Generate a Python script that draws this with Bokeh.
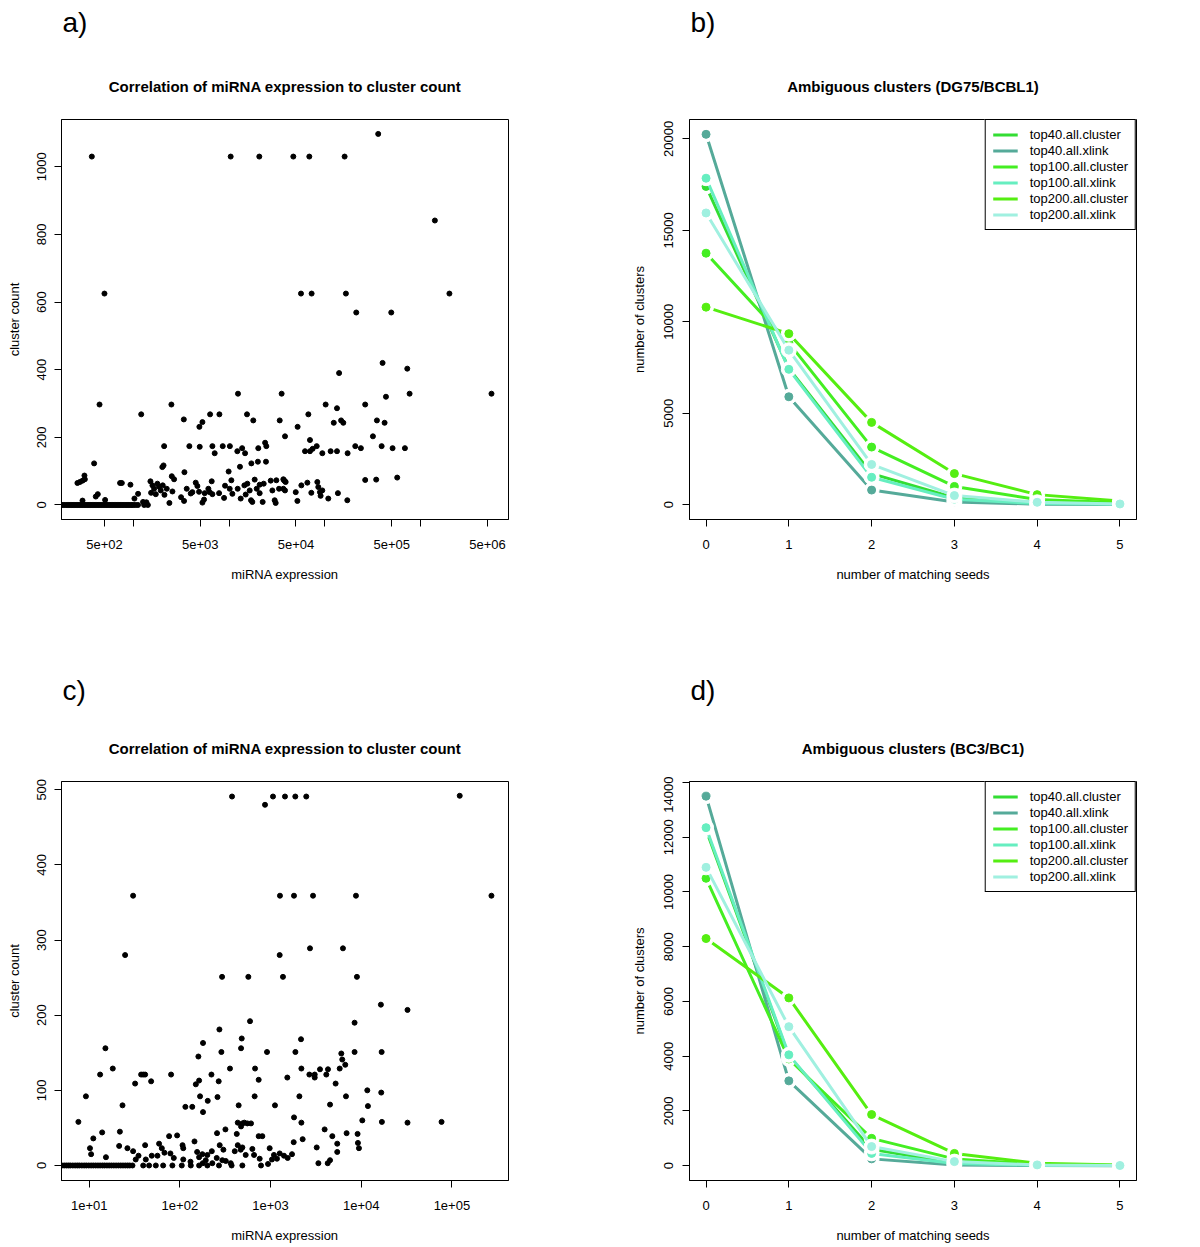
from bokeh.plotting import figure
from bokeh.models import Range1d, FixedTicker, Legend, LegendItem
from bokeh.core.properties import value
from bokeh.layouts import column, row
from bokeh.embed import file_html
from bokeh.resources import INLINE

FONT = "Liberation Sans"

# ---------------- panel a : miRNA expression vs cluster count (DG75/BCBL1)
a_expr = [369, 500, 444, 390, 10400, 20700, 46900, 68900, 161000, 361000, 1410000, 2000000,
          56400, 72800, 166000, 213000, 494000, 401000, 141000, 726000, 768000, 5500000, 435000,
          12400, 35400, 264000, 102000, 134000, 2500, 1210, 6340, 7930, 15400, 67300, 3370, 17900,
          33800, 148000, 156000, 350000, 421000, 124000, 5270, 4900, 52000, 38400, 318000, 70000,
          2100, 3850, 4940, 6700, 8590, 10200, 13700, 20200, 23800, 24500, 7080, 12200, 14700,
          82300, 62100, 70000, 74600, 94200, 115000, 134000, 173000, 208000, 238000, 392000,
          510000, 686000, 20000, 24300, 17100, 13000, 2070, 2010, 3420, 9900,
          261, 277, 295, 309, 312, 295, 406, 426, 508, 728, 759, 934, 1028, 1122, 1265, 1371, 1510,
          1585, 1535, 1650, 1717, 1786, 1858, 1936, 2031, 2115, 2236, 2383, 2523, 2563, 2667, 3155,
          3390, 3614, 3981, 4140, 4487, 4670, 4860, 5270, 5480, 5570, 6080, 6280, 6590, 6700, 7870,
          8870, 9080, 10160, 10570, 10830, 12310, 13230, 14450, 14920, 15520, 16430, 16960, 17500,
          18520, 19440, 20880, 20880, 22440, 23010, 27230, 28330, 29950, 30680, 31180, 33250, 36900,
          38400, 38400, 37500, 39000, 36900, 49700, 51700, 56900, 65700, 72300, 83500, 85500, 89000,
          90400, 94100, 108700, 137000, 171700, 264000, 344000, 570000]
a_count = [1030, 625, 297, 123, 1030, 1030, 1030, 1030, 1030, 1097, 841, 625, 625, 625, 625, 569,
           569, 420, 390, 403, 329, 329, 320, 329, 329, 297, 297, 286, 297, 268, 268, 268, 268, 268,
           253, 250, 250, 250, 243, 250, 243, 243, 245, 231, 231, 203, 203, 192, 174, 174, 172, 174,
           174, 174, 168, 168, 184, 174, 153, 159, 153, 174, 159, 159, 166, 153, 159, 159, 153, 174,
           168, 174, 168, 168, 128, 128, 123, 113, 117, 112, 97, 99,
           65, 68, 72, 87, 76, 13, 25, 32, 15, 65, 65, 60, 19, 33, 9, 8, 70, 58, 36, 48, 32, 63, 54,
           43, 58, 30, 48, 6, 85, 40, 76, 23, 12, 48, 34, 38, 66, 56, 39, 7, 16, 35, 48, 38, 70, 32,
           35, 21, 57, 48, 73, 33, 48, 19, 58, 31, 63, 43, 14, 9, 75, 48, 60, 35, 9, 63, 72, 43, 14,
           6, 73, 48, 76, 70, 43, 73, 68, 48, 38, 12, 58, 66, 36, 68, 53, 38, 27, 43, 19, 35, 14,
           74, 75, 81]
a_zero_expr = [180, 188, 196, 204, 212, 220, 228, 236, 245, 254, 263, 272, 282, 292, 302, 313, 324,
               336, 348, 360, 373, 386, 400, 415, 430, 445, 461, 478, 495, 513, 531, 550, 570, 590,
               611, 633, 656, 680, 704, 729, 755, 782, 810, 840, 870, 900, 935, 970, 1010, 1060,
               1120, 1300, 1420]

a_xticks = [500, 1000, 5000, 10000, 50000, 100000, 500000, 1000000, 5000000]
a_xlabels = ["5e+02", "", "5e+03", "", "5e+04", "", "5e+05", "", "5e+06"]
a_yticks = [0, 200, 400, 600, 800, 1000]

# ---------------- panel c : miRNA expression vs cluster count (BC3/BC1)
c_expr = [376, 869, 1064, 1443, 1875, 2477, 122000, 30.5, 1270, 1814, 2941, 8750, 273000, 24.9,
          1261, 2723, 6290, 292, 569, 1371, 8970, 16480, 32400, 594, 8450, 273, 481, 2168, 180,
          15.1, 473,
          287, 914, 160, 18.2, 13.2, 9.2, 7.6, 23.3, 32.1, 37.4, 39.4, 41.4, 48.2, 80, 150, 163,
          167, 203, 180, 223, 268, 260, 357, 445, 675, 740, 668, 1119, 115, 137, 435, 473, 489,
          514, 555, 609, 740, 812, 424, 318, 257,
          10.2, 10.5, 11.1, 13.9, 15.3, 21.8, 21.4, 26.4, 30.5, 32.6, 35.0, 41.4, 42.1, 49.0, 56.6,
          59.0, 63.2, 67.6, 76.1, 78.7, 85.7, 93.3, 107, 109, 109, 131, 145, 155, 163, 177, 179,
          193, 201, 225, 228, 255, 275, 294, 302, 321, 364, 403, 435, 469, 489, 532, 630, 658, 759,
          785, 938, 978, 1037, 1091, 1178, 1261, 1407, 1545,
          1880, 6030, 6180, 6670, 8450, 16800, 2188, 1531, 2680, 3070, 3070, 3510, 4120, 4300,
          5790, 5220, 2080, 6790, 11670, 16630, 4530, 11860, 1815, 2188, 10280, 16900, 32400,
          76900, 3950, 4800, 6900, 9120, 9200, 9440, 5440, 5440, 1800, 2260, 3230, 1725, 4530,
          4270, 3370]
c_count = [491, 480, 491, 491, 491, 491, 492, 359, 359, 359, 359, 359, 359, 280, 280, 289, 289,
           251, 251, 251, 251, 214, 207, 192, 190, 181, 169, 168, 163, 156, 156,
           151, 151, 145, 129, 121, 92, 58, 80, 109, 121, 121, 121, 112, 121, 108, 113, 92, 86, 71,
           121, 112, 91, 129, 80, 129, 114, 92, 80, 78, 78, 57, 52, 56, 57, 56, 56, 39, 39, 42, 48,
           43,
           23, 15, 36, 44, 11, 45, 26, 23, 19, 8, 13, 27, 8, 13, 13, 29, 23, 17, 39, 16, 10, 40, 27,
           23, 8, 5, 32, 18, 11, 15, 3, 7, 14, 19, 3, 10, 27, 7, 21, 6, 3, 19, 27, 21, 24, 14, 22,
           14, 9, 0, 2, 23, 8, 14, 9, 16, 13, 10,
           151, 149, 141, 134, 151, 151, 129, 117, 121, 121, 117, 128, 121, 128, 129, 109, 92, 92,
           100, 97, 81, 79, 64, 57, 60, 58, 57, 58, 48, 39, 43, 42, 30, 23, 29, 18, 31, 35, 24, 15,
           7, 3, 3]
c_zero_expr = [5.0, 5.3, 5.6, 5.9, 6.2, 6.6, 7.0, 7.4, 7.8, 8.3, 8.8, 9.3, 9.9, 10.5, 11.1, 11.8,
               12.5, 13.2, 14.0, 14.8, 15.7, 16.6, 17.6, 18.7, 19.8, 21.0, 22.3, 23.6, 25.0, 26.5,
               28.0, 30.0, 39.4, 45.8, 54.3, 65.4, 82.7, 105, 132, 163, 201, 270, 372, 489]

c_xticks = [10, 100, 1000, 10000, 100000]
c_xlabels = ["1e+01", "1e+02", "1e+03", "1e+04", "1e+05"]
c_yticks = [0, 100, 200, 300, 400, 500]

# ---------------- panels b and d : ambiguous clusters by number of matching seeds
seeds = [0, 1, 2, 3, 4, 5]
series_names = ["top40.all.cluster", "top40.all.xlink", "top100.all.cluster",
                "top100.all.xlink", "top200.all.cluster", "top200.all.xlink"]
series_colors = ["#33DD33", "#55AA99", "#44EE22", "#66EEC0", "#55EE11", "#A0F0E0"]

b_top40_cluster = [17400, 7450, 1700, 380, 100, 30]
b_top40_xlink = [20250, 5900, 800, 150, 30, 10]
b_top100_cluster = [13750, 8850, 3150, 1000, 280, 100]
b_top100_xlink = [17850, 7400, 1500, 300, 60, 20]
b_top200_cluster = [10800, 9350, 4500, 1700, 550, 200]
b_top200_xlink = [15950, 8450, 2200, 500, 130, 40]
b_yticks = [0, 5000, 10000, 15000, 20000]

d_top40_cluster = [12270, 4000, 600, 100, 20, 5]
d_top40_xlink = [13500, 3100, 250, 30, 5, 2]
d_top100_cluster = [10500, 3900, 1000, 250, 50, 10]
d_top100_xlink = [12350, 4050, 450, 80, 15, 5]
d_top200_cluster = [8300, 6130, 1870, 450, 90, 25]
d_top200_xlink = [10900, 5080, 700, 150, 30, 8]
d_yticks = [0, 2000, 4000, 6000, 8000, 10000, 12000, 14000]

scatter_title = "Correlation of miRNA expression to cluster count"
b_title = "Ambiguous clusters (DG75/BCBL1)"
d_title = "Ambiguous clusters (BC3/BC1)"


def make_fig(xr, yr, w, h, bl, br, bt, bb, xtype="linear"):
    p = figure(width=w, height=h, x_range=xr, y_range=yr, x_axis_type=xtype, title=None,
               min_border_left=bl, min_border_right=br, min_border_top=bt, min_border_bottom=bb,
               output_backend="svg", toolbar_location=None)
    p.xgrid.visible = False
    p.ygrid.visible = False
    p.outline_line_color = "black"
    p.outline_line_alpha = 1.0
    p.outline_line_width = 1
    p.background_fill_color = "white"
    p.border_fill_color = "white"
    return p


def style_axis(ax, ticks, labels, title, label_standoff, tick_standoff, vertical=False):
    ax.ticker = FixedTicker(ticks=ticks)
    if labels is not None:
        ax.major_label_overrides = {t: l for t, l in zip(ticks, labels)}
    ax.axis_label = title
    ax.axis_label_standoff = label_standoff
    ax.axis_label_text_font = FONT
    ax.axis_label_text_font_size = "13px"
    ax.axis_label_text_font_style = "normal"
    ax.axis_label_text_color = "black"
    ax.major_label_text_font = FONT
    ax.major_label_text_font_size = "13px"
    ax.major_label_text_color = "black"
    ax.major_label_standoff = tick_standoff
    ax.major_tick_out = 7
    ax.major_tick_in = 0
    ax.minor_tick_line_color = None
    ax.axis_line_color = "black"
    ax.major_tick_line_color = "black"
    if vertical:
        ax.major_label_orientation = "vertical"


def header(w, h, letters, letter_x, letter_y, titles, title_x, title_y):
    p = figure(width=w, height=h, x_range=Range1d(0, w), y_range=Range1d(0, h), title=None,
               min_border=0, x_axis_location=None, y_axis_location=None,
               output_backend="svg", toolbar_location=None)
    p.xgrid.visible = False
    p.ygrid.visible = False
    p.outline_line_color = None
    p.background_fill_color = "white"
    p.border_fill_color = "white"
    p.text(x=letter_x, y=letter_y, text=letters, text_font=value(FONT),
           text_font_size=value("28px"), text_align="left", text_baseline="middle",
           text_color="black")
    p.text(x=title_x, y=title_y, text=titles, text_font=value(FONT),
           text_font_size=value("15px"), text_font_style="bold", text_align="center",
           text_baseline="middle", text_color="black")
    return p


def scatter_panel(expr, count, zero_expr, xr, yr, xticks, xlabels, yticks, h, bb):
    p = make_fig(xr, yr, 600, h, 61, 92, 5, bb, xtype="log")
    p.scatter(x=expr, y=count, size=5, color="black")
    p.scatter(x=zero_expr, y=[0] * len(zero_expr), size=5, color="black")
    style_axis(p.xaxis[0], xticks, xlabels, "miRNA expression", 15, 13)
    style_axis(p.yaxis[0], yticks, None, "cluster count", 13, 8, vertical=True)
    return p


def line_panel(series, yr, yticks, h, bb):
    p = make_fig(Range1d(-0.2, 5.2), yr, 598, h, 89, 62, 5, bb)
    items = []
    for name, col, vals in zip(series_names, series_colors, series):
        r = p.line(x=seeds, y=vals, line_color=col, line_width=3)
        p.scatter(x=seeds, y=vals, size=15, color="white")
        p.scatter(x=seeds, y=vals, size=8, color=col)
        items.append(LegendItem(label=name, renderers=[r]))
    style_axis(p.xaxis[0], seeds, None, "number of matching seeds", 15, 13)
    style_axis(p.yaxis[0], yticks, None, "number of clusters", 15, 9, vertical=True)
    leg = Legend(items=items, location="top_right", margin=0, padding=7, spacing=1,
                 label_height=15, glyph_height=15, glyph_width=25, label_standoff=12,
                 border_line_color="black", border_line_width=1, border_line_alpha=1.0,
                 background_fill_color="white", background_fill_alpha=1.0,
                 label_text_font=FONT, label_text_font_size="13px", label_text_color="black")
    p.add_layout(leg)
    return p


top_header = header(1198, 114, ["a)", "b)"], [62, 690], [92, 92],
                    [scatter_title, b_title], [284.5, 912.5], [28, 28])
bottom_header = header(1198, 106, ["c)", "d)"], [62, 690], [86, 86],
                       [scatter_title, d_title], [284.5, 912.5], [28, 28])

pa = scatter_panel(a_expr, a_count, a_zero_expr, Range1d(178, 8.28e6), Range1d(-42.9, 1139.6),
                   a_xticks, a_xlabels, a_yticks, 556, 151)
pc = scatter_panel(c_expr, c_count, c_zero_expr, Range1d(4.95, 4.21e5), Range1d(-20.0, 511.0),
                   c_xticks, c_xlabels, c_yticks, 469, 63)

pb = line_panel([b_top40_cluster, b_top40_xlink, b_top100_cluster, b_top100_xlink,
                 b_top200_cluster, b_top200_xlink], Range1d(-810, 21060), b_yticks, 556, 151)
pd_ = line_panel([d_top40_cluster, d_top40_xlink, d_top100_cluster, d_top100_xlink,
                  d_top200_cluster, d_top200_xlink], Range1d(-540, 14036), d_yticks, 469, 63)

layout = column(top_header, row(pa, pb), bottom_header, row(pc, pd_))
open("out.html", "w").write(file_html(layout, INLINE))
